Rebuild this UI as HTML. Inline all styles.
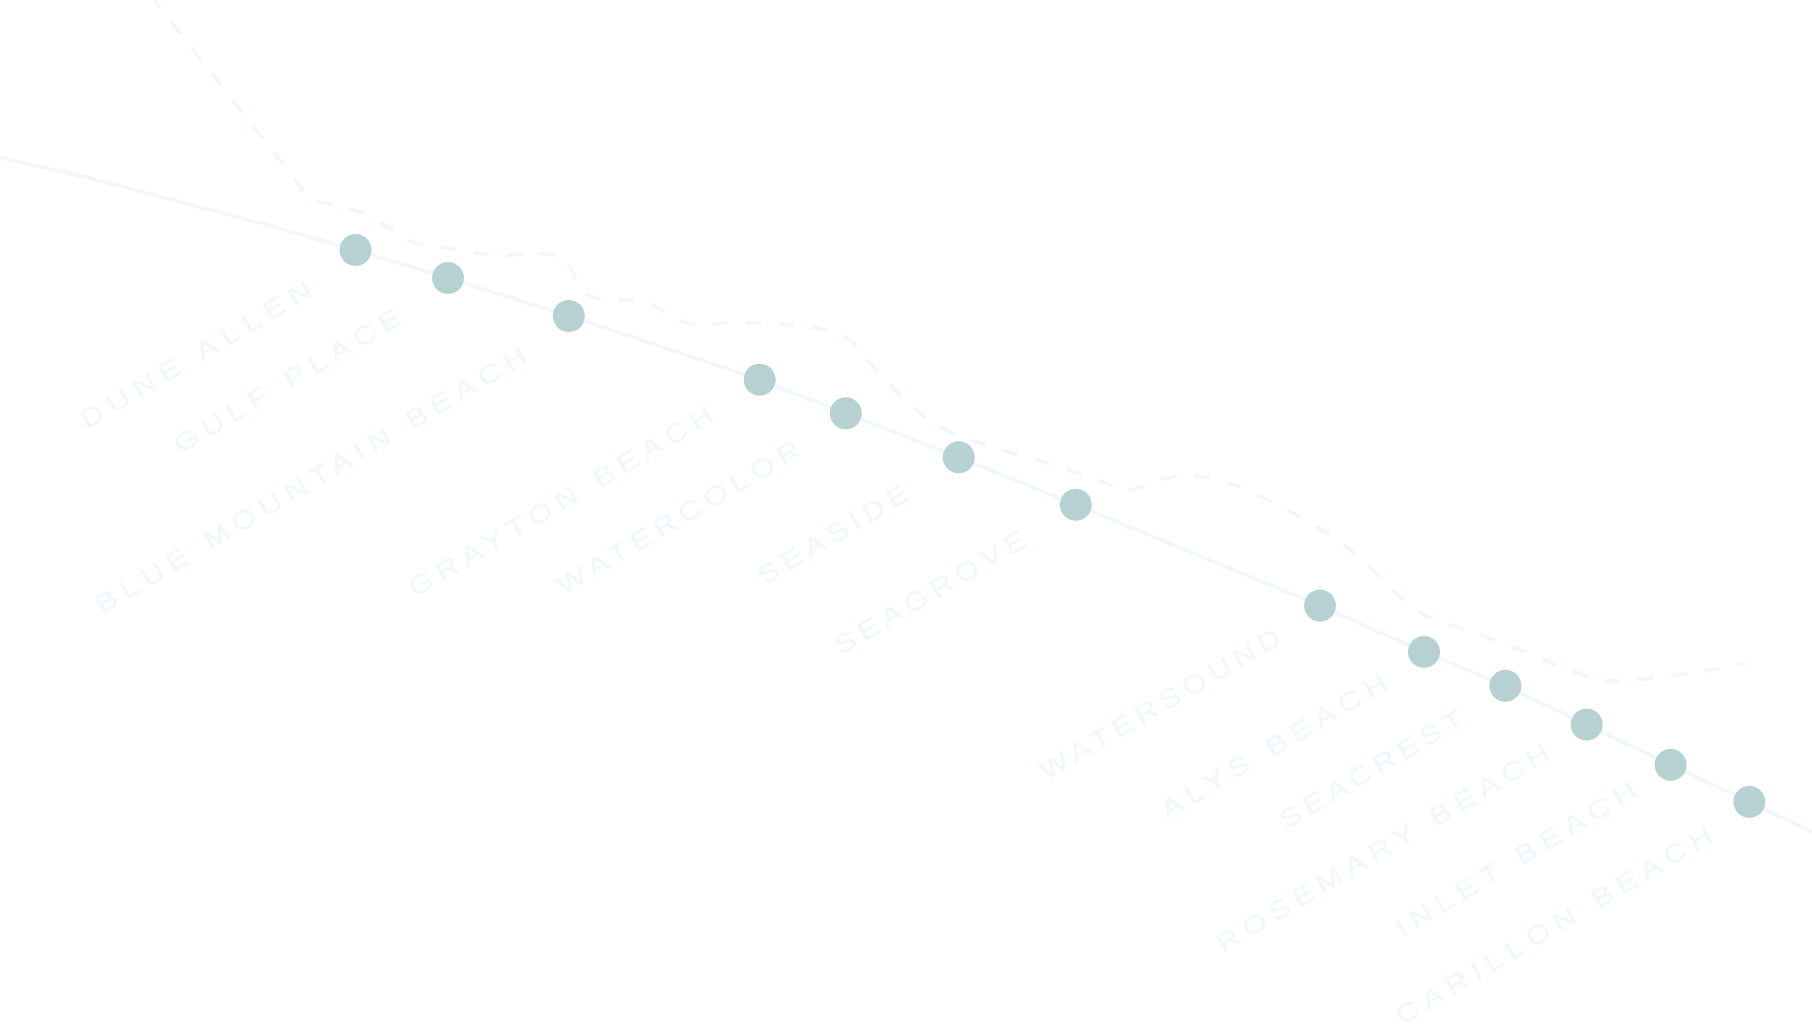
<!DOCTYPE html>
<html><head><meta charset="utf-8"><style>
html,body{margin:0;padding:0;background:#fff;width:1812px;height:1035px;overflow:hidden}
svg{display:block}
text{font-family:"Liberation Sans",sans-serif;font-size:26px;fill:#f0f8fd;stroke:#f0f8fd;stroke-width:.5px}
</style></head><body>
<svg width="1812" height="1035" viewBox="0 0 1812 1035" xmlns="http://www.w3.org/2000/svg">
<path d="M0 157.5L90 178L173 200L260 223L355 250L448 278L568.8 316L759.7 379.7L845.8 413.3L958.7 457.3L1075.8 504.7L1320 605.6L1424 651.9L1505.4 685.8L1586.7 724.6L1670.6 764.9L1749.4 801.9L1812 832" fill="none" stroke="#f0f8fd" stroke-width="3.8" stroke-linejoin="round"/>
<path d="M154 0L294 178L304 192L311 198L318 201.7L333 205L350 209.3L365 213.3L380 222.3L394 231L408 240.7L423 245L440 247L456.7 249.7L473 252.3L490 254.7L506.7 255.3L523 254L540 253L555 255L563 259L569 265L573 272L575.7 280L579 287L585 293L592 297L600 299L632 300L650 304L665 312L680 321L693.5 325L728 323L760 323L780 324L795 325L811.7 327L826.7 330.7L843 336L850 340L856.7 346L866.7 359.3L877 372L889 384L900.7 396L912.7 407L926 417.7L940 426.7L955 435L970 440L986 445L1002 450L1018 454.7L1034 459L1050 464L1066 469.3L1081.7 474.3L1097 480L1113 485.7L1122 489L1130 490L1138 488.5L1145 486L1161.7 479.3L1176.7 475.7L1193 476L1210 478L1241 487L1272 502L1301 517L1330 535L1356 554.5L1380.6 577.6L1404 601L1418 611L1432 619L1463.5 629L1494.6 640L1527 652.6L1558 666L1589 676.5L1605 681L1621.7 681L1638 679.7L1655 677.7L1671.7 676L1688 673.3L1704 671.3L1720.7 667.7L1737 664.7L1745.7 662.7" fill="none" stroke="#f0f8fd" stroke-width="3.8" stroke-dasharray="16 17.3" stroke-dashoffset="6.3" stroke-linejoin="round"/>
<g fill="#b7d0d2">
<circle cx="355.5" cy="250" r="16"/><circle cx="448" cy="278" r="16"/><circle cx="568.8" cy="316" r="16"/>
<circle cx="759.7" cy="379.7" r="16"/><circle cx="845.8" cy="413.3" r="16"/><circle cx="958.7" cy="457.3" r="16"/>
<circle cx="1075.8" cy="504.7" r="16"/><circle cx="1320" cy="605.6" r="16"/><circle cx="1424" cy="651.9" r="16"/>
<circle cx="1505.4" cy="685.8" r="16"/><circle cx="1586.7" cy="724.6" r="16"/><circle cx="1670.6" cy="764.9" r="16"/>
<circle cx="1749.4" cy="801.9" r="16"/>
</g>
<text transform="translate(87 429.2) rotate(-30.6) scale(1.2 1)" textLength="219.5" lengthAdjust="spacing">DUNE ALLEN</text>
<text transform="translate(180.5 454) rotate(-30.5) scale(1.2 1)" textLength="215" lengthAdjust="spacing">GULF PLACE</text>
<text transform="translate(102.3 614.2) rotate(-30.7) scale(1.2 1)" textLength="413.5" lengthAdjust="spacing">BLUE MOUNTAIN BEACH</text>
<text transform="translate(415.3 597.6) rotate(-30.6) scale(1.2 1)" textLength="290.5" lengthAdjust="spacing">GRAYTON BEACH</text>
<text transform="translate(563.4 595.4) rotate(-30.5) scale(1.2 1)" textLength="231" lengthAdjust="spacing">WATERCOLOR</text>
<text transform="translate(764.3 585.4) rotate(-30.6) scale(1.2 1)" textLength="142" lengthAdjust="spacing">SEASIDE</text>
<text transform="translate(840.9 655.4) rotate(-30.5) scale(1.2 1)" textLength="181" lengthAdjust="spacing">SEAGROVE</text>
<text transform="translate(1046 780.7) rotate(-30.2) scale(1.2 1)" textLength="228.5" lengthAdjust="spacing">WATERSOUND</text>
<text transform="translate(1167.3 819.4) rotate(-30.6) scale(1.2 1)" textLength="215" lengthAdjust="spacing">ALYS BEACH</text>
<text transform="translate(1286.4 829.4) rotate(-30.4) scale(1.2 1)" textLength="173" lengthAdjust="spacing">SEACREST</text>
<text transform="translate(1223.3 953.2) rotate(-30.7) scale(1.2 1)" textLength="318.5" lengthAdjust="spacing">ROSEMARY BEACH</text>
<text transform="translate(1402 937.6) rotate(-31) scale(1.2 1)" textLength="230" lengthAdjust="spacing">INLET BEACH</text>
<text transform="translate(1402.5 1025.5) rotate(-30.7) scale(1.2 1)" textLength="302.5" lengthAdjust="spacing">CARILLON BEACH</text>
</svg>
</body></html>
